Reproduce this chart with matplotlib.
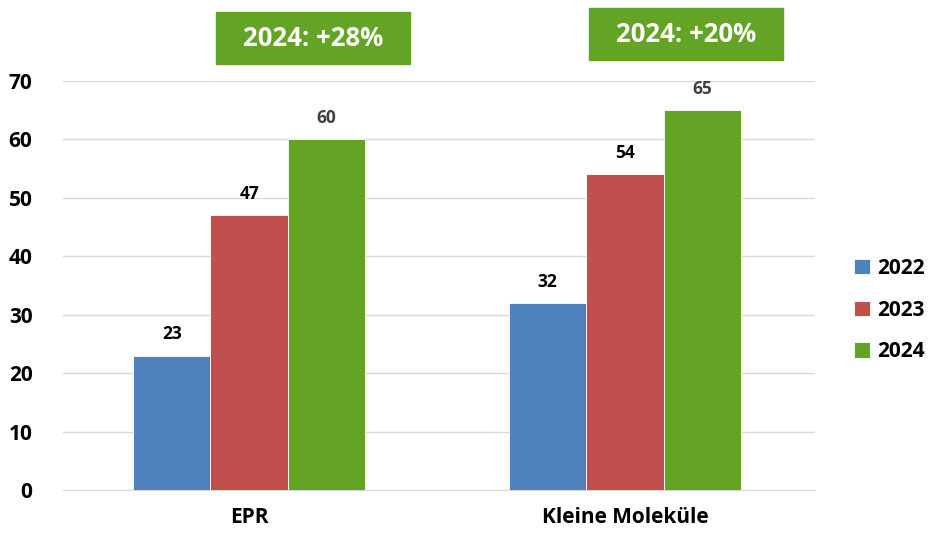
import matplotlib.pyplot as plt
import numpy as np
from matplotlib.patches import Rectangle

categories = ["EPR", "Kleine Moleküle"]
years = ["2022", "2023", "2024"]
values_2022 = [23, 32]
values_2023 = [47, 54]
values_2024 = [60, 65]
growth_labels = ["2024: +28%", "2024: +20%"]

colors = ["#4F81BD", "#C0504D", "#63A425"]
label_colors = ["#000000", "#000000", "#404040"]

plt.rcParams["font.family"] = ["Open Sans", "DejaVu Sans"]

fig = plt.figure(figsize=(9.32, 5.35), dpi=100)
ax = fig.add_axes([0.0676, 0.0841, 0.807, 0.7645])

x = np.arange(len(categories))
width = 0.206
series = [values_2022, values_2023, values_2024]
for i, (year, vals) in enumerate(zip(years, series)):
    pos = x + (i - 1) * width
    ax.bar(pos, vals, width, color=colors[i], edgecolor="white", linewidth=0.6,
           label=year, zorder=3)
    for px, v in zip(pos, vals):
        ax.annotate(str(v), (px, v), xytext=(0, 9), textcoords="offset points",
                    ha="center", va="bottom", fontsize=12.5, fontweight="bold",
                    color=label_colors[i])

ax.set_xlim(-0.495, 1.505)
ax.set_ylim(0, 70)
ax.set_yticks(range(0, 71, 10))
ax.set_xticks(x)
ax.set_xticklabels(categories, fontsize=15, fontweight="bold")
ax.tick_params(axis="y", labelsize=15, length=0, pad=22)
ax.tick_params(axis="x", length=0, pad=12)
for lbl in ax.get_yticklabels():
    lbl.set_fontweight("bold")
ax.grid(axis="y", color="#D9D9D9", linewidth=1, zorder=0)
for side in ("top", "right", "left"):
    ax.spines[side].set_visible(False)
ax.spines["bottom"].set_color("#D9D9D9")

ax.legend(loc="center left", bbox_to_anchor=(1.027, 0.44), frameon=False,
          prop={"size": 15, "weight": "bold"}, handlelength=0.75, handleheight=0.75,
          handletextpad=0.35, labelspacing=1.0)

# growth boxes above each group
box_centers = [(313 / 932, 1 - 38 / 535), (686 / 932, 1 - 34 / 535)]
box_w, box_h = 194 / 932, 51 / 535
for (cx, cy), txt in zip(box_centers, growth_labels):
    fig.patches.append(Rectangle((cx - box_w / 2, cy - box_h / 2), box_w, box_h,
                                 transform=fig.transFigure, color="#63A425"))
    fig.text(cx, cy, txt, ha="center", va="center", fontsize=18.5,
             fontweight="bold", color="white")

fig.savefig("out.png", dpi=100)
